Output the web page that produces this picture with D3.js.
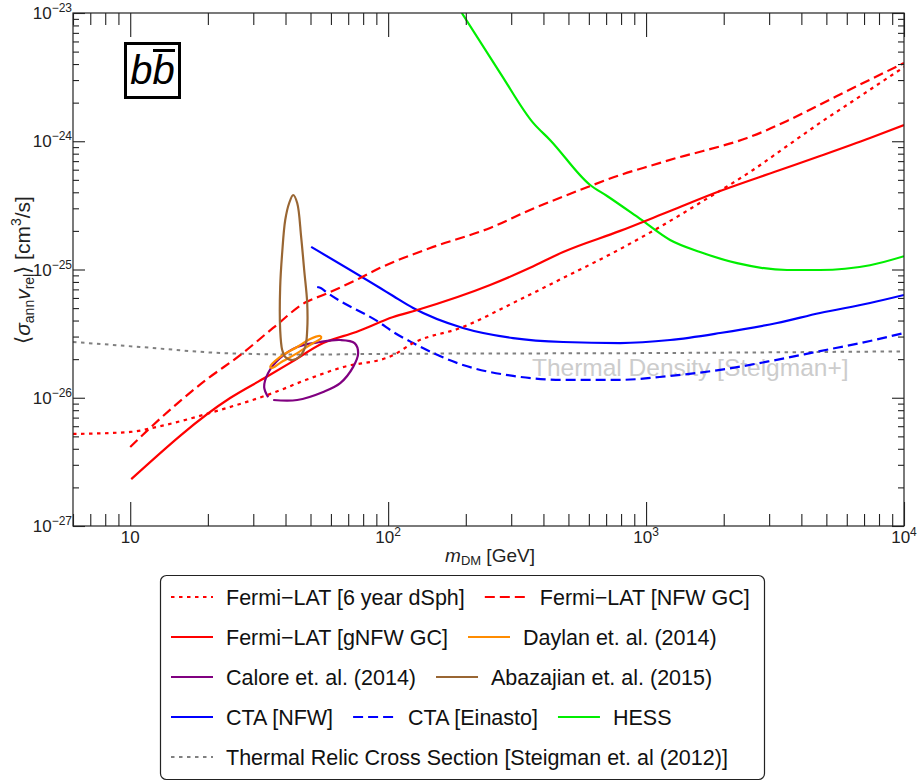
<!DOCTYPE html>
<html><head><meta charset="utf-8">
<script src="https://cdn.jsdelivr.net/npm/d3@7"></script>
<style>body{margin:0;background:#fff}svg{display:block;font-family:"Liberation Sans",Arial,sans-serif}</style>
</head><body><svg id="c" width="917" height="783"></svg>
<script>
// ---- data (m_DM in GeV, <sigma v> in cm^3/s) ----
const dsphM  = [6, 10, 12.6, 22.3, 35.8, 48.1, 65.2, 104.6, 125, 195, 305, 477, 745, 1355, 1663, 2598, 3520, 4725, 6342, 10000];
const dsphSV = [5.22e-27, 5.41e-27, 5.91e-27, 8.03e-27, 1.09e-26, 1.38e-26, 1.71e-26, 2.15e-26, 2.67e-26, 3.56e-26, 5.48e-26, 8.59e-26, 1.35e-25, 2.66e-25, 3.42e-25, 5.97e-25, 9.18e-25, 1.39e-24, 2.06e-24, 3.79e-24];
const nfwM  = [10, 12.28, 19.7, 26.7, 35.8, 48.1, 56, 75.2, 93.1, 145.5, 248.5, 355, 555, 793, 1065, 1355, 1663, 2464, 3520, 4725, 6342, 10000];
const nfwSV = [4.13e-27, 6.13e-27, 1.38e-26, 2.15e-26, 3.50e-26, 5.58e-26, 6.33e-26, 8.28e-26, 1.03e-25, 1.47e-25, 2.11e-25, 2.91e-25, 4.17e-25, 5.45e-25, 6.53e-25, 7.54e-25, 8.39e-25, 1.06e-24, 1.44e-24, 1.93e-24, 2.60e-24, 4.07e-24];
const gnfwM  = [10.09, 24.4, 33.7, 41.7, 56, 75.2, 104.6, 129.6, 248.5, 355, 477, 793, 1239, 1936, 3220, 4725, 7383, 10000];
const gnfwSV = [2.32e-27, 9.95e-27, 1.45e-26, 1.87e-26, 2.67e-26, 3.26e-26, 4.26e-26, 4.83e-26, 7.57e-26, 1.03e-25, 1.37e-25, 2.00e-25, 2.86e-25, 4.09e-25, 5.86e-25, 7.67e-25, 1.06e-24, 1.34e-24];
const ctaNfwM  = [50.3, 93.1, 104.6, 125, 195, 305, 477, 793, 1239, 1936, 3220, 4725, 7383, 10000];
const ctaNfwSV = [1.50e-25, 7.17e-26, 6.21e-26, 5.01e-26, 3.50e-26, 2.92e-26, 2.72e-26, 2.67e-26, 2.82e-26, 3.20e-26, 3.83e-26, 4.58e-26, 5.48e-26, 6.33e-26];
const ctaEinM  = [53.07, 55, 57.5, 93.1, 104.6, 125, 195, 305, 477, 793, 1239, 1936, 3024, 4725, 7383, 10000];
const ctaEinSV = [7.30e-26, 7.15e-26, 6.68e-26, 3.83e-26, 3.26e-26, 2.67e-26, 1.80e-26, 1.48e-26, 1.38e-26, 1.38e-26, 1.48e-26, 1.65e-26, 1.93e-26, 2.31e-26, 2.77e-26, 3.20e-26];
const hessM  = [193, 272, 365, 425, 607, 706, 948, 1239, 1619, 2253, 3520, 4725, 7383, 10000];
const hessSV = [1.0e-23, 3.40e-24, 1.39e-24, 1.02e-24, 4.56e-25, 3.74e-25, 2.48e-25, 1.70e-25, 1.37e-25, 1.12e-25, 9.91e-26, 9.91e-26, 1.08e-25, 1.27e-25];
const thermM  = [6, 10.9, 22.9, 48, 100, 1000, 10000];
const thermSV = [2.72e-26, 2.49e-26, 2.23e-26, 2.17e-26, 2.20e-26, 2.23e-26, 2.30e-26];
// closed / open contours
const daylanM  = [34.88, 38.14, 44.40, 49.85, 54.51, 55.0, 51.21, 44.40, 38.14, 35.5];
const daylanSV = [1.74e-26, 2.08e-26, 2.49e-26, 2.87e-26, 3.03e-26, 2.92e-26, 2.67e-26, 2.23e-26, 1.87e-26, 1.71e-26];
const abazM  = [42.84, 44.40, 46.0, 47.26, 48.55, 48.55, 47.69, 45.19, 42.46, 39.9, 38.83, 38.14, 38.14, 38.83, 39.9, 41.34];
const abazSV = [3.81e-25, 3.30e-25, 1.79e-25, 9.91e-26, 5.48e-26, 3.38e-26, 2.49e-26, 2.08e-26, 1.97e-26, 2.08e-26, 2.36e-26, 3.38e-26, 7.30e-26, 1.35e-25, 2.43e-25, 3.30e-25];
const caloreM  = [35.84, 44.40, 56.0, 65.2, 73.2, 76.5, 74.1, 65.2, 54.51, 44.40, 38.14, 34.26, 33.06, 34.26];
const caloreSV = [9.60e-27, 9.60e-27, 1.11e-26, 1.30e-26, 1.74e-26, 2.23e-26, 2.67e-26, 2.82e-26, 2.72e-26, 2.49e-26, 2.04e-26, 1.56e-26, 1.21e-26, 1.01e-26];
// axis ticks
const xMajor = [10, 100, 1000, 10000];
const xMajorExp = ["", "2", "3", "4"];
const yMajor = [1e-27, 1e-26, 1e-25, 1e-24, 1e-23];
const yMajorExp = ["−27", "−26", "−25", "−24", "−23"];
// legend
const legendRows = [
  ["Fermi−LAT [6 year dSph]", "Fermi−LAT [NFW GC]"],
  ["Fermi−LAT [gNFW GC]", "Daylan et. al. (2014)"],
  ["Calore et. al. (2014)", "Abazajian et. al. (2015)"],
  ["CTA [NFW]", "CTA [Einasto]", "HESS"],
  ["Thermal Relic Cross Section [Steigman et. al (2012)]"]
];

// ---- drawing ----
const svg = d3.select("#c");
const L = 73, R = 904, T = 13, B = 526;
const x = d3.scaleLog().domain([6, 1e4]).range([L, R]);
const y = d3.scaleLog().domain([1e-27, 1e-23]).range([B, T]);

const styles = {
  "Fermi−LAT [6 year dSph]": {c: "#ff0000", d: "3.5,4.5", w: 2.2},
  "Fermi−LAT [NFW GC]": {c: "#ff0000", d: "10,5", w: 2.2},
  "Fermi−LAT [gNFW GC]": {c: "#ff0000", d: null, w: 2.2},
  "Daylan et. al. (2014)": {c: "#ff8c00", d: null, w: 2.2},
  "Calore et. al. (2014)": {c: "#800080", d: null, w: 2.2},
  "Abazajian et. al. (2015)": {c: "#996633", d: null, w: 2.2},
  "CTA [NFW]": {c: "#0000ff", d: null, w: 2.2},
  "CTA [Einasto]": {c: "#0000ff", d: "10,5", w: 2.2},
  "HESS": {c: "#00ee00", d: null, w: 2.2},
  "Thermal Relic Cross Section [Steigman et. al (2012)]": {c: "#808080", d: "3.5,4.5", w: 2}
};

svg.append("defs").append("clipPath").attr("id", "clip")
  .append("rect").attr("x", L).attr("y", T).attr("width", R - L).attr("height", B - T);

const plot = svg.append("g").attr("clip-path", "url(#clip)");
const zip = (a, b) => a.map((v, i) => [v, b[i]]);
const line = d3.line().x(d => x(d[0])).y(d => y(d[1])).curve(d3.curveMonotoneX);
const lineOpen = d3.line().x(d => x(d[0])).y(d => y(d[1])).curve(d3.curveCatmullRom);
const closed = d3.line().x(d => x(d[0])).y(d => y(d[1])).curve(d3.curveCatmullRomClosed);

// thermal label
plot.append("text").attr("x", x(361)).attr("y", y(1.48e-26))
  .attr("font-size", 24.5).attr("fill", "#cccccc").text("Thermal Density [Steigman+]");

function drawLine(gen, data, key) {
  const s = styles[key];
  plot.append("path").attr("d", gen(data)).attr("fill", "none")
    .attr("stroke", s.c).attr("stroke-width", s.w)
    .attr("stroke-dasharray", s.d).attr("stroke-linejoin", "round");
}
drawLine(line, zip(thermM, thermSV), "Thermal Relic Cross Section [Steigman et. al (2012)]");
drawLine(line, zip(hessM, hessSV), "HESS");
drawLine(line, zip(ctaEinM, ctaEinSV), "CTA [Einasto]");
drawLine(line, zip(ctaNfwM, ctaNfwSV), "CTA [NFW]");
drawLine(line, zip(dsphM, dsphSV), "Fermi−LAT [6 year dSph]");
drawLine(line, zip(nfwM, nfwSV), "Fermi−LAT [NFW GC]");
drawLine(line, zip(gnfwM, gnfwSV), "Fermi−LAT [gNFW GC]");
drawLine(lineOpen, zip(caloreM, caloreSV), "Calore et. al. (2014)");
drawLine(closed, zip(daylanM, daylanSV), "Daylan et. al. (2014)");
drawLine(closed, zip(abazM, abazSV), "Abazajian et. al. (2015)");

// frame
svg.append("rect").attr("x", L).attr("y", T).attr("width", R - L).attr("height", B - T)
  .attr("fill", "none").attr("stroke", "#222").attr("stroke-width", 1.2);

// ticks
const xMinor = [];
[1, 10, 100, 1000].forEach(dec => { for (let k = 2; k <= 9; k++) { const v = k * dec; if (v >= 6 && v < 1e4) xMinor.push(v); } });
const yMinor = [];
[1e-27, 1e-26, 1e-25, 1e-24].forEach(dec => { for (let k = 2; k <= 9; k++) yMinor.push(k * dec); });

function axis(gen, tr, vals, size) {
  const g = svg.append("g").attr("transform", tr)
    .call(gen.tickValues(vals).tickSizeInner(size).tickSizeOuter(0).tickFormat(""));
  g.select(".domain").remove();
  g.selectAll("line").attr("stroke", "#222").attr("stroke-width", 1.1);
}
axis(d3.axisTop(x), `translate(0,${B})`, xMajor, 24);
axis(d3.axisTop(x), `translate(0,${B})`, xMinor, 12);
axis(d3.axisBottom(x), `translate(0,${T})`, xMajor, 24);
axis(d3.axisBottom(x), `translate(0,${T})`, xMinor, 12);
axis(d3.axisRight(y), `translate(${L},0)`, yMajor, 12);
axis(d3.axisRight(y), `translate(${L},0)`, yMinor, 6);
axis(d3.axisLeft(y), `translate(${R},0)`, yMajor, 12);
axis(d3.axisLeft(y), `translate(${R},0)`, yMinor, 6);

// tick labels
xMajor.forEach((v, i) => {
  const t = svg.append("text").attr("x", x(v)).attr("y", 543).attr("text-anchor", "middle")
    .attr("font-size", 17).attr("fill", "#222");
  t.append("tspan").text("10");
  if (xMajorExp[i]) t.append("tspan").attr("dy", -7).attr("font-size", 12).text(xMajorExp[i]);
});
yMajor.forEach((v, i) => {
  const t = svg.append("text").attr("x", 72).attr("y", y(v) + 6).attr("text-anchor", "end")
    .attr("font-size", 17).attr("fill", "#222");
  t.append("tspan").text("10");
  t.append("tspan").attr("dy", -7).attr("font-size", 12).text(yMajorExp[i]);
});

// axis titles
const xt = svg.append("text").attr("x", 490).attr("y", 562).attr("text-anchor", "middle")
  .attr("font-size", 19).attr("fill", "#222");
xt.append("tspan").attr("font-style", "italic").text("m");
xt.append("tspan").attr("font-size", 13).attr("dy", 3).text("DM");
xt.append("tspan").attr("dy", -3).text(" [GeV]");

const yt = svg.append("text").attr("transform", "translate(30,270) rotate(-90)")
  .attr("text-anchor", "middle").attr("font-size", 21).attr("fill", "#222");
yt.append("tspan").text("⟨");
yt.append("tspan").attr("font-style", "italic").text("σ");
yt.append("tspan").attr("font-size", 14).attr("dy", 4).text("ann");
yt.append("tspan").attr("dy", -4).attr("font-style", "italic").text("v");
yt.append("tspan").attr("font-size", 14).attr("dy", 4).text("rel");
yt.append("tspan").attr("dy", -4).text("⟩ [cm");
yt.append("tspan").attr("font-size", 14).attr("dy", -9).text("3");
yt.append("tspan").attr("dy", 9).text("/s]");

// b bbar label
svg.append("rect").attr("x", 125.5).attr("y", 43.5).attr("width", 54).attr("height", 54)
  .attr("fill", "#fff").attr("stroke", "#000").attr("stroke-width", 3);
svg.append("text").attr("x", 152.5).attr("y", 84).attr("text-anchor", "middle")
  .attr("font-size", 40).attr("font-style", "italic").attr("fill", "#000").text("bb");
svg.append("line").attr("x1", 153).attr("x2", 175).attr("y1", 50.5).attr("y2", 50.5)
  .attr("stroke", "#000").attr("stroke-width", 3);

// legend
svg.append("rect").attr("x", 160.5).attr("y", 575.5).attr("width", 604).attr("height", 204)
  .attr("rx", 6).attr("fill", "#fff").attr("stroke", "#222").attr("stroke-width", 1.2);
legendRows.forEach((row, r) => {
  const cy = 597 + r * 40;
  let cx = 171;
  row.forEach(key => {
    const s = styles[key];
    svg.append("line").attr("x1", cx).attr("x2", cx + 42).attr("y1", cy).attr("y2", cy)
      .attr("stroke", s.c).attr("stroke-width", s.w).attr("stroke-dasharray", s.d);
    const t = svg.append("text").attr("x", cx + 55).attr("y", cy + 7.5)
      .attr("font-size", 21.5).attr("fill", "#111").text(key);
    cx = cx + 55 + t.node().getComputedTextLength() + 20;
  });
});
</script></body></html>
